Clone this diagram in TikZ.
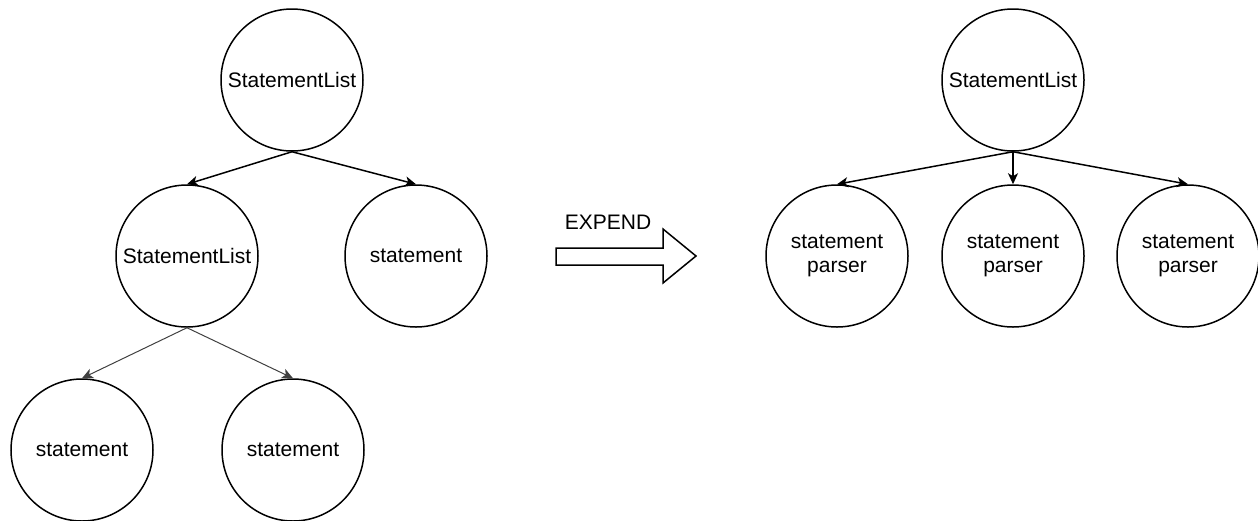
\documentclass[tikz,border=0pt]{standalone}
\usepackage{fontspec}
\setmainfont{Liberation Sans}
\usetikzlibrary{arrows.meta}
\begin{document}
\begin{tikzpicture}[x=1pt,y=-1pt,
  treenode/.style={circle,draw,line width=1.5pt,minimum size=142pt,inner sep=0pt,
                   align=center,font=\fontsize{21}{24}\selectfont},
  edge/.style={line width=1.5pt,-{Stealth[length=11pt,width=10pt,inset=3pt]}},
  thinedge/.style={edge,line width=1pt,draw=black!75}]
\useasboundingbox (0,0) rectangle (1258,520);

% left tree
\node[treenode] (root)  at (292,80)  {StatementList};
\node[treenode] (list)  at (187,256) {StatementList};
\node[treenode] (stA)   at (416,256) {statement};
\node[treenode] (stB)   at (82,450)  {statement};
\node[treenode] (stC)   at (293,450) {statement};

\draw[edge] (root.south) -- (list.north);
\draw[edge] (root.south) -- (stA.north);
\draw[thinedge] (list.south) -- (stB.north);
\draw[thinedge] (list.south) -- (stC.north);

% expansion arrow
\node[font=\fontsize{21}{24}\selectfont] (expend) at (608,222) {EXPEND};
\draw[line width=1.5pt,line join=miter]
  (556,248) -- (663,248) -- (663,229) -- (696,256) -- (663,283) -- (663,265) -- (556,265) -- cycle;

% right tree
\node[treenode] (rroot) at (1013,80)  {StatementList};
\node[treenode] (pA)    at (837,256)  {statement\\parser};
\node[treenode] (pB)    at (1013,256) {statement\\parser};
\node[treenode] (pC)    at (1188,256) {statement\\parser};

\draw[edge] (rroot.south) -- (pA.north);
\draw[edge] (rroot.south) -- (pB.north);
\draw[edge] (rroot.south) -- (pC.north);
\end{tikzpicture}
\end{document}
